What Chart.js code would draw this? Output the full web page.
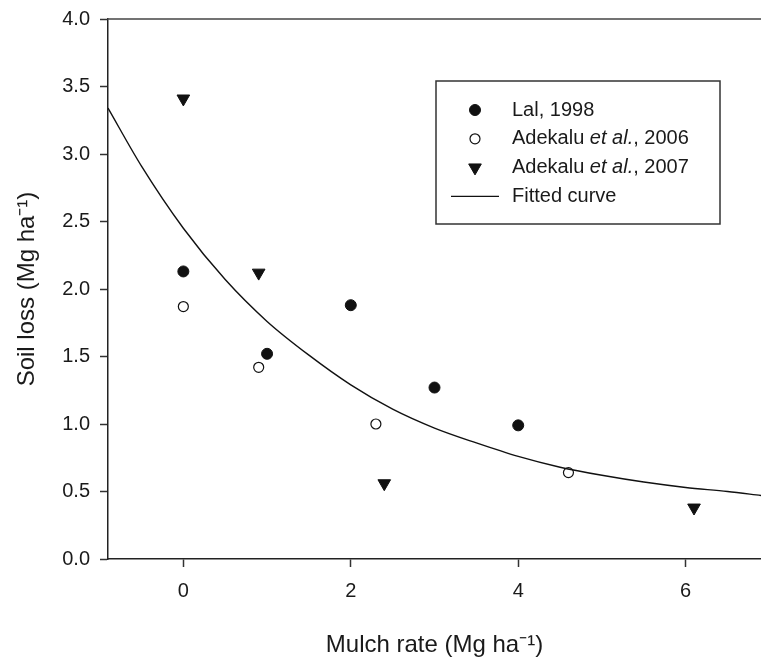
<!DOCTYPE html>
<html>
<head>
<meta charset="utf-8">
<script src="https://cdn.jsdelivr.net/npm/chart.js@4/dist/chart.umd.min.js"></script>
<style>
  html, body { margin: 0; padding: 0; background: #fff; }
  #wrap { width: 761px; height: 657px; }
</style>
</head>
<body>
<div id="wrap"><canvas id="c" width="761" height="657"></canvas></div>
<script>
// ---- data ----
const lalX = [0, 1, 2, 3, 4];
const lalY = [2.13, 1.52, 1.88, 1.27, 0.99];

const ade2006X = [0, 0.9, 2.3, 4.6];
const ade2006Y = [1.87, 1.42, 1.00, 0.64];

const ade2007X = [0, 0.9, 2.4, 6.1];
const ade2007Y = [3.41, 2.12, 0.56, 0.38];

const curveX = [-0.9, -0.5, 0, 0.5, 1.0, 1.5, 2.0, 2.5, 3.0, 3.5, 4.0, 4.5, 5.0, 5.5, 6.0, 6.5, 6.9];
const curveY = [3.34, 2.91, 2.45, 2.07, 1.76, 1.51, 1.29, 1.11, 0.97, 0.86, 0.76, 0.68, 0.62, 0.57, 0.53, 0.50, 0.47];

const seriesLabels = ['Lal, 1998', 'Adekalu et al., 2006', 'Adekalu et al., 2007', 'Fitted curve'];
const xTicks = [0, 2, 4, 6];
const yTicks = [0, 0.5, 1.0, 1.5, 2.0, 2.5, 3.0, 3.5, 4.0];

const xTitle = 'Mulch rate (Mg ha\u207B\u00B9)';
const yTitle = 'Soil loss (Mg ha\u207B\u00B9)';

const toPts = (xs, ys) => xs.map((x, i) => ({ x: x, y: ys[i] }));

const FONT = '"Liberation Sans", Arial, Helvetica, sans-serif';
const INK = '#1a1a1a';

// top frame line
const frameTop = {
  id: 'frameTop',
  afterDraw(chart) {
    const { ctx, chartArea } = chart;
    ctx.save();
    ctx.strokeStyle = '#444';
    ctx.lineWidth = 1.5;
    ctx.beginPath();
    ctx.moveTo(chartArea.left - 0.75, chartArea.top);
    ctx.lineTo(chart.width, chartArea.top);
    ctx.stroke();
    ctx.restore();
  }
};

// boxed legend inside the plot
const boxLegend = {
  id: 'boxLegend',
  afterDraw(chart, args, opts) {
    const { ctx, chartArea } = chart;
    const left = chartArea.left + opts.offsetX;
    const top = chartArea.top + opts.offsetY;
    ctx.save();
    ctx.strokeStyle = '#333';
    ctx.lineWidth = 1.5;
    ctx.strokeRect(left, top, opts.width, opts.height);
    const symX = left + opts.symbolX;
    const textX = left + opts.textX;
    chart.data.datasets.forEach((ds, i) => {
      const y = top + opts.firstRow + i * opts.rowGap;
      if (ds.showLine) {
        ctx.strokeStyle = ds.borderColor;
        ctx.lineWidth = ds.borderWidth;
        ctx.beginPath();
        ctx.moveTo(symX - opts.lineHalf, y);
        ctx.lineTo(symX + opts.lineHalf, y);
        ctx.stroke();
      } else {
        ctx.fillStyle = ds.backgroundColor;
        ctx.strokeStyle = ds.borderColor;
        ctx.lineWidth = ds.borderWidth;
        Chart.helpers.drawPoint(ctx, {
          pointStyle: ds.pointStyle,
          rotation: ds.rotation || 0,
          radius: ds.pointRadius,
          borderWidth: ds.borderWidth
        }, symX, y);
      }
      // text with italic "et al."
      ctx.fillStyle = INK;
      ctx.textBaseline = 'middle';
      ctx.textAlign = 'left';
      const parts = ds.label.split('et al.');
      let x = textX;
      parts.forEach((p, k) => {
        ctx.font = opts.fontSize + 'px ' + FONT;
        ctx.fillText(p, x, y);
        x += ctx.measureText(p).width;
        if (k < parts.length - 1) {
          ctx.font = 'italic ' + opts.fontSize + 'px ' + FONT;
          ctx.fillText('et al.', x, y);
          x += ctx.measureText('et al.').width;
        }
      });
    });
    ctx.restore();
  }
};

new Chart(document.getElementById('c'), {
  type: 'scatter',
  data: {
    datasets: [
      {
        label: seriesLabels[0],
        data: toPts(lalX, lalY),
        pointStyle: 'circle',
        pointRadius: 5.5,
        pointHoverRadius: 5.5,
        backgroundColor: '#111',
        borderColor: '#111',
        borderWidth: 1
      },
      {
        label: seriesLabels[1],
        data: toPts(ade2006X, ade2006Y),
        pointStyle: 'circle',
        pointRadius: 5,
        pointHoverRadius: 5,
        backgroundColor: 'rgba(0,0,0,0)',
        borderColor: '#111',
        borderWidth: 1.2
      },
      {
        label: seriesLabels[2],
        data: toPts(ade2007X, ade2007Y),
        pointStyle: 'triangle',
        rotation: 180,
        pointRotation: 180,
        pointRadius: 7.3,
        pointHoverRadius: 7.3,
        backgroundColor: '#111',
        borderColor: '#111',
        borderWidth: 1
      },
      {
        type: 'line',
        label: seriesLabels[3],
        data: toPts(curveX, curveY),
        showLine: true,
        pointRadius: 0,
        borderColor: '#111',
        borderWidth: 1.4,
        backgroundColor: '#111',
        cubicInterpolationMode: 'monotone',
        fill: false
      }
    ]
  },
  options: {
    responsive: false,
    animation: false,
    devicePixelRatio: 1,
    layout: { autoPadding: false, padding: { top: 19, right: 0, bottom: 0, left: 0 } },
    plugins: {
      legend: { display: false },
      tooltip: { enabled: false },
      boxLegend: {
        offsetX: 328, offsetY: 62, width: 284, height: 143,
        symbolX: 39, textX: 76, firstRow: 29, rowGap: 28.8,
        lineHalf: 24, fontSize: 20
      }
    },
    scales: {
      x: {
        type: 'linear',
        min: -0.9,
        max: 6.9,
        afterBuildTicks: (s) => { s.ticks = xTicks.map(v => ({ value: v })); },
        afterFit: (s) => { s.height = 98; s.paddingLeft = 0; s.paddingRight = 0; },
        grid: { drawOnChartArea: false, drawTicks: true, tickLength: 8, tickColor: '#333', tickWidth: 1.5 },
        border: { display: true, color: '#222', width: 1.5 },
        ticks: { color: INK, font: { family: FONT, size: 20 }, padding: 12 },
        title: { display: true, text: xTitle, color: INK, font: { family: FONT, size: 24, lineHeight: 1 }, padding: { top: 0, bottom: 0 } }
      },
      y: {
        type: 'linear',
        min: 0,
        max: 4,
        afterBuildTicks: (s) => { s.ticks = yTicks.map(v => ({ value: v })); },
        afterFit: (s) => { s.width = 108; s.paddingTop = 0; s.paddingBottom = 0; },
        grid: { drawOnChartArea: false, drawTicks: true, tickLength: 8, tickColor: '#333', tickWidth: 1.5 },
        border: { display: true, color: '#222', width: 1.5 },
        ticks: { color: INK, font: { family: FONT, size: 20 }, padding: 10, callback: (v) => Number(v).toFixed(1) },
        title: { display: true, text: yTitle, color: INK, font: { family: FONT, size: 24, lineHeight: 1 }, padding: { top: 15, bottom: 0 } }
      }
    }
  },
  plugins: [frameTop, boxLegend]
});
</script>
</body>
</html>
